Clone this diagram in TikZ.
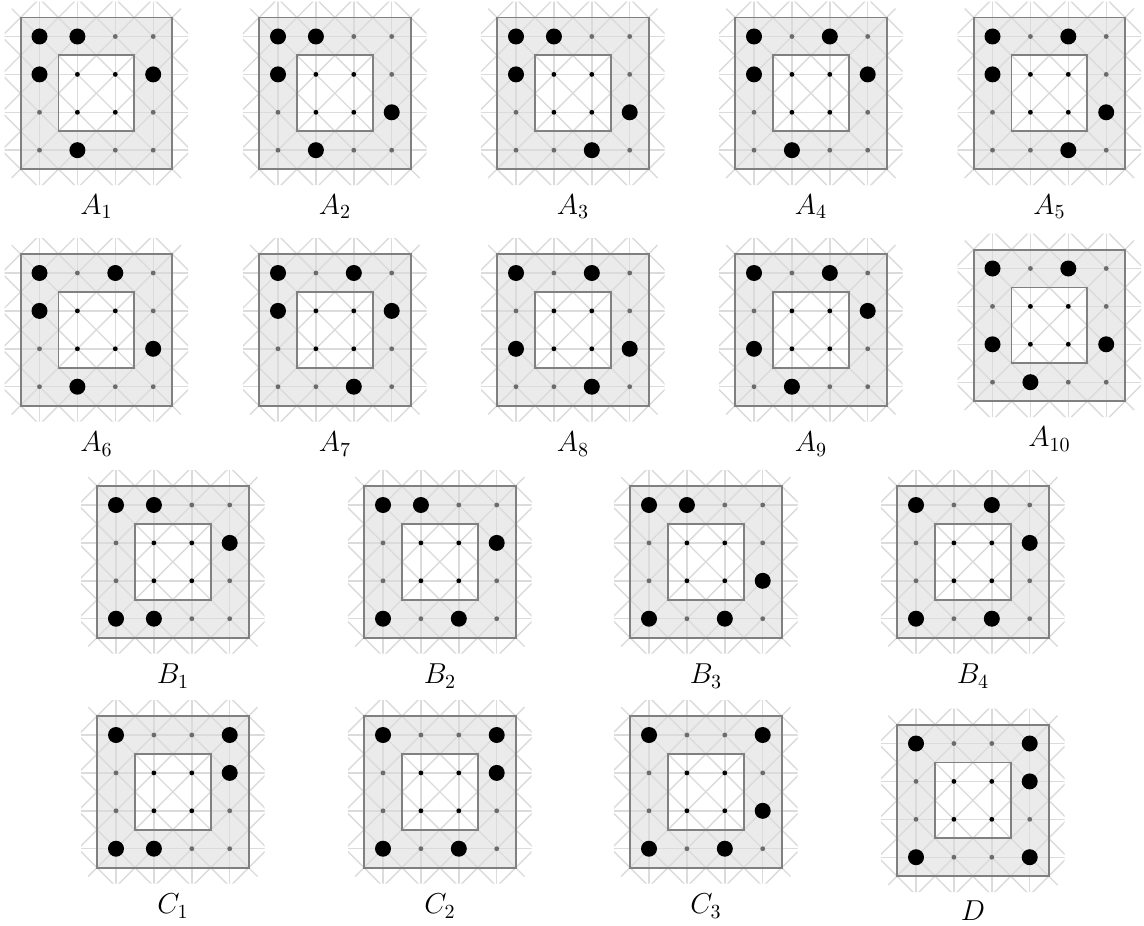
\documentclass[tikz,border=0pt]{standalone}
\newcommand{\panelsp}{18.95pt}
\tikzset{
  ringfill/.style={fill=black!8,draw=none},
  holefill/.style={fill=white,draw=none},
  latline/.style={draw=black!14,line width=0.7pt},
  boxline/.style={draw=black!50,line width=0.95pt},
  outerdot/.style={fill=black!58,draw=none},
  innerdot/.style={fill=black,draw=none},
  bigdot/.style={fill=black,draw=none},
  panellabel/.style={inner sep=0pt,font=\fontsize{14}{16}\selectfont}
}
\newcommand{\panel}[6]{%
  % #1 name, #2 box left, #3 box top, #4 label, #5 label y, #6 big dots
  \begin{scope}[shift={(#2+19,#3+19)},x=\panelsp,y=-\panelsp]
    \fill[ringfill] (-0.5,-0.5) rectangle (3.5,3.5);
    \fill[holefill] (0.5,0.5) rectangle (2.5,2.5);
    \begin{scope}
      \clip (-0.92,-0.55) -- (-0.55,-0.92) -- (3.55,-0.92) -- (3.92,-0.55) -- (3.92,3.55) -- (3.55,3.92) -- (-0.55,3.92) -- (-0.92,3.55) -- cycle;
      \foreach \k in {0,...,3} {
        \draw[latline] (-1,\k) -- (4,\k);
        \draw[latline] (\k,-1) -- (\k,4);
      }
      \foreach \k in {-4,...,4} {
        \draw[latline] (\k-2,-2) -- (\k+6,6);
      }
      \foreach \k in {-1,...,7} {
        \draw[latline] (\k+2,-2) -- (\k-6,6);
      }
    \end{scope}
    \draw[boxline] (-0.5,-0.5) rectangle (3.5,3.5);
    \draw[boxline] (0.5,0.5) rectangle (2.5,2.5);
    \foreach \cx/\cy in {0/0,1/0,2/0,3/0,0/1,3/1,0/2,3/2,0/3,1/3,2/3,3/3} {
      \fill[outerdot] (\cx,\cy) circle (1.2pt);
    }
    \foreach \cx/\cy in {1/1,2/1,1/2,2/2} {
      \fill[innerdot] (\cx,\cy) circle (1.2pt);
    }
    \foreach \cx/\cy in {#6} {
      \fill[bigdot] (\cx,\cy) circle (4pt);
    }
  \end{scope}
  \node[panellabel] (#1) at (#2+76,#5) {$#4$};
}
\begin{document}
\begin{tikzpicture}[x=0.5pt,y=-0.5pt]
\useasboundingbox (0,0) rectangle (1144,925);
\panel{a1}{20.5}{17.5}{A_1}{207}{0/0,1/0,0/1,3/1,1/3}
\panel{a2}{259}{17.5}{A_2}{207}{0/0,1/0,0/1,3/2,1/3}
\panel{a3}{497}{17.5}{A_3}{207}{0/0,1/0,0/1,3/2,2/3}
\panel{a4}{735}{17.5}{A_4}{207}{0/0,2/0,0/1,3/1,1/3}
\panel{a5}{973.5}{17.5}{A_5}{207}{0/0,2/0,0/1,3/2,2/3}
\panel{a6}{20.5}{254}{A_6}{444}{0/0,2/0,0/1,3/2,1/3}
\panel{a7}{259}{254}{A_7}{444}{0/0,2/0,0/1,3/1,2/3}
\panel{a8}{497}{254}{A_8}{444}{0/0,2/0,0/2,3/2,2/3}
\panel{a9}{735}{254}{A_9}{444}{0/0,2/0,0/2,3/1,1/3}
\panel{a10}{973.5}{249.5}{A_{10}}{439}{0/0,2/0,0/2,3/2,1/3}
\panel{b1}{97}{486}{B_1}{676}{0/0,1/0,3/1,0/3,1/3}
\panel{b2}{364}{486}{B_2}{676}{0/0,1/0,3/1,0/3,2/3}
\panel{b3}{630}{486}{B_3}{676}{0/0,1/0,3/2,0/3,2/3}
\panel{b4}{897}{486}{B_4}{676}{0/0,2/0,3/1,0/3,2/3}
\panel{c1}{97}{716}{C_1}{906}{0/0,3/0,3/1,0/3,1/3}
\panel{c2}{364}{716}{C_2}{906}{0/0,3/0,3/1,0/3,2/3}
\panel{c3}{630}{716}{C_3}{906}{0/0,3/0,3/2,0/3,2/3}
\panel{d}{897}{724.5}{D}{911}{0/0,3/0,3/1,0/3,3/3}
\end{tikzpicture}
\end{document}
